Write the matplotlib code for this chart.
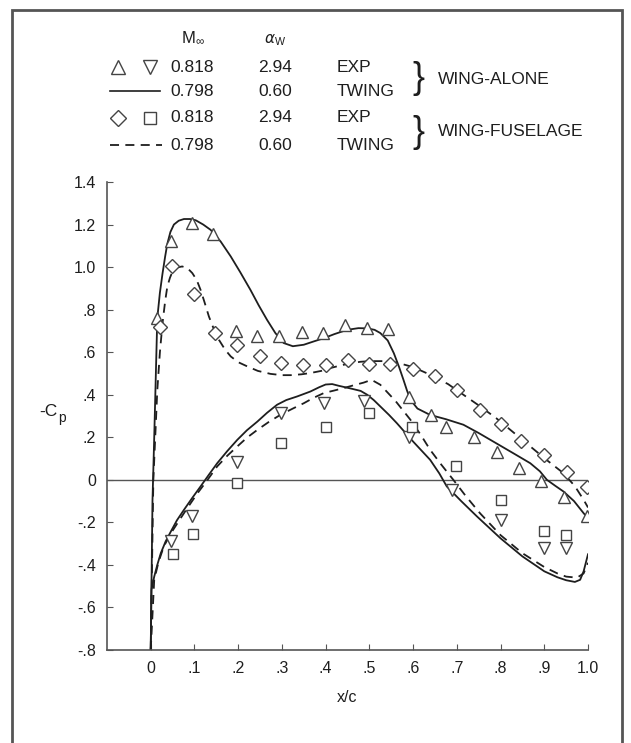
import numpy as np
import matplotlib
matplotlib.use("Agg")
import matplotlib.pyplot as plt
from matplotlib.patches import Rectangle
from matplotlib.lines import Line2D

plt.rcParams["font.family"] = ["Liberation Sans", "DejaVu Sans"]

# wing-alone experiment, upper surface (triangles)
wa_up_x = [0.015, 0.046, 0.095, 0.143, 0.194, 0.244, 0.293, 0.346, 0.394, 0.444, 0.495,
           0.542, 0.59, 0.64, 0.675, 0.74, 0.793, 0.843, 0.892, 0.944, 0.997]
wa_up_y = [0.76, 1.125, 1.207, 1.155, 0.70, 0.674, 0.674, 0.697, 0.69, 0.73, 0.712,
           0.71, 0.39, 0.305, 0.25, 0.20, 0.13, 0.055, -0.005, -0.08, -0.17]
# wing-alone experiment, lower surface (inverted triangles)
wa_lo_x = [0.046, 0.095, 0.198, 0.297, 0.396, 0.487, 0.59, 0.69, 0.80, 0.90, 0.95]
wa_lo_y = [-0.287, -0.17, 0.086, 0.313, 0.363, 0.37, 0.20, -0.047, -0.19, -0.32, -0.32]
# wing-fuselage experiment, upper surface (diamonds)
wf_up_x = [0.021, 0.048, 0.099, 0.148, 0.198, 0.251, 0.298, 0.349, 0.40, 0.451, 0.50,
           0.548, 0.60, 0.65, 0.70, 0.752, 0.80, 0.847, 0.90, 0.951, 0.998]
wf_up_y = [0.72, 1.003, 0.873, 0.69, 0.635, 0.58, 0.548, 0.54, 0.54, 0.564, 0.546,
           0.545, 0.52, 0.49, 0.42, 0.33, 0.263, 0.183, 0.117, 0.036, -0.036]
# wing-fuselage experiment, lower surface (squares)
wf_lo_x = [0.05, 0.097, 0.198, 0.297, 0.40, 0.50, 0.597, 0.699, 0.80, 0.90, 0.95]
wf_lo_y = [-0.348, -0.255, -0.013, 0.175, 0.248, 0.313, 0.25, 0.063, -0.094, -0.24, -0.26]

# TWING wing-alone (solid)
tw_up_x = [0.0, 0.004, 0.008, 0.011, 0.015, 0.021, 0.027, 0.033, 0.038, 0.045, 0.053, 0.064,
           0.076, 0.09, 0.103, 0.12, 0.137, 0.16, 0.183, 0.205, 0.228, 0.247, 0.266, 0.285,
           0.304, 0.325, 0.35, 0.372, 0.396, 0.42, 0.449, 0.475, 0.495, 0.512, 0.525, 0.542,
           0.556, 0.568, 0.578, 0.586, 0.594, 0.61, 0.639, 0.675, 0.715, 0.75, 0.79, 0.83,
           0.868, 0.89, 0.906, 0.925, 0.944, 0.968, 0.99, 1.0]
tw_up_y = [-0.8, -0.1, 0.2, 0.44, 0.76, 0.88, 0.97, 1.05, 1.11, 1.165, 1.20, 1.218,
           1.226, 1.226, 1.22, 1.2, 1.175, 1.12, 1.05, 0.975, 0.893, 0.82, 0.752, 0.69,
           0.643, 0.628, 0.635, 0.65, 0.666, 0.685, 0.705, 0.713, 0.712, 0.705, 0.69, 0.655,
           0.595, 0.53, 0.47, 0.42, 0.376, 0.335, 0.305, 0.285, 0.259, 0.22, 0.172, 0.124,
           0.078, 0.04, 0.0, -0.028, -0.055, -0.1, -0.157, -0.18]
tw_lo_x = [0.0, 0.0015, 0.008, 0.015, 0.023, 0.034, 0.046, 0.06, 0.076, 0.095, 0.114, 0.133,
           0.152, 0.175, 0.198, 0.22, 0.244, 0.266, 0.289, 0.31, 0.335, 0.365, 0.385, 0.40,
           0.415, 0.43, 0.46, 0.48, 0.495, 0.51, 0.525, 0.545, 0.563, 0.6, 0.639, 0.66,
           0.677, 0.71, 0.746, 0.80, 0.85, 0.90, 0.93, 0.95, 0.97, 0.982, 0.99, 1.0]
tw_lo_y = [-0.8, -0.517, -0.455, -0.4, -0.345, -0.29, -0.243, -0.19, -0.141, -0.085, -0.031,
           0.024, 0.078, 0.135, 0.188, 0.233, 0.274, 0.315, 0.353, 0.375, 0.392, 0.415, 0.435,
           0.448, 0.45, 0.442, 0.428, 0.418, 0.40, 0.375, 0.345, 0.305, 0.266, 0.18, 0.094,
           0.03, -0.031, -0.1, -0.172, -0.275, -0.36, -0.43, -0.458, -0.472, -0.48, -0.47,
           -0.43, -0.35]
# TWING wing-fuselage (dashed)
tf_up_x = [0.0, 0.006, 0.015, 0.021, 0.027, 0.033, 0.038, 0.044, 0.05, 0.06, 0.072, 0.084,
           0.095, 0.105, 0.114, 0.123, 0.133, 0.145, 0.156, 0.17, 0.183, 0.2, 0.221, 0.245,
           0.274, 0.3, 0.32, 0.345, 0.365, 0.39, 0.41, 0.435, 0.457, 0.48, 0.502, 0.53, 0.563,
           0.6, 0.639, 0.68, 0.715, 0.75, 0.79, 0.83, 0.868, 0.905, 0.944, 0.97, 0.99, 1.0]
tf_up_y = [-0.8, 0.0, 0.42, 0.6, 0.737, 0.84, 0.909, 0.95, 0.98, 0.998, 1.003, 0.995,
           0.972, 0.94, 0.893, 0.835, 0.768, 0.705, 0.658, 0.612, 0.58, 0.553, 0.533, 0.512,
           0.498, 0.492, 0.492, 0.496, 0.502, 0.512, 0.525, 0.538, 0.548, 0.555, 0.558, 0.558,
           0.551, 0.53, 0.494, 0.45, 0.40, 0.35, 0.29, 0.222, 0.157, 0.094, 0.031, -0.03,
           -0.094, -0.13]
tf_lo_x = [0.0, 0.008, 0.018, 0.03, 0.045, 0.061, 0.083, 0.107, 0.13, 0.152, 0.175, 0.198,
           0.22, 0.244, 0.27, 0.297, 0.325, 0.35, 0.372, 0.396, 0.42, 0.441, 0.465, 0.487,
           0.505, 0.525, 0.56, 0.594, 0.618, 0.639, 0.665, 0.692, 0.72, 0.753, 0.80, 0.85,
           0.90, 0.93, 0.95, 0.975, 0.99, 1.0]
tf_lo_y = [-0.8, -0.47, -0.385, -0.313, -0.255, -0.204, -0.135, -0.063, 0.0, 0.063, 0.113,
           0.157, 0.198, 0.235, 0.272, 0.306, 0.335, 0.36, 0.385, 0.408, 0.42, 0.431, 0.445,
           0.457, 0.47, 0.447, 0.37, 0.282, 0.21, 0.141, 0.07, 0.0, -0.075, -0.157, -0.26,
           -0.345, -0.41, -0.44, -0.455, -0.46, -0.44, -0.39]

x_ticks = [0, 0.1, 0.2, 0.3, 0.4, 0.5, 0.6, 0.7, 0.8, 0.9, 1.0]
x_labels = ["0", ".1", ".2", ".3", ".4", ".5", ".6", ".7", ".8", ".9", "1.0"]
y_ticks = [1.4, 1.2, 1.0, 0.8, 0.6, 0.4, 0.2, 0, -0.2, -0.4, -0.6, -0.8]
y_labels = ["1.4", "1.2", "1.0", ".8", ".6", ".4", ".2", "0", "-.2", "-.4", "-.6", "-.8"]

ink = "#1e1e1e"
W, H = 631, 743
fig = plt.figure(figsize=(W / 100, H / 100), dpi=100)
ax = fig.add_axes([107 / W, 1 - 650 / H, (588 - 107) / W, (650 - 182) / H])

ax.axhline(0, color="#555555", lw=1.0)
ax.plot(tw_up_x, tw_up_y, color=ink, lw=1.3)
ax.plot(tw_lo_x, tw_lo_y, color=ink, lw=1.3)
ax.plot(tf_up_x, tf_up_y, color=ink, lw=1.3, dashes=(5, 3.5))
ax.plot(tf_lo_x, tf_lo_y, color=ink, lw=1.3, dashes=(5, 3.5))

mk = dict(ls="none", mfc="white", mec="#444444", mew=1.0)
ax.plot(wa_up_x, wa_up_y, marker="^", ms=8, **mk)
ax.plot(wa_lo_x, wa_lo_y, marker="v", ms=8, **mk)
ax.plot(wf_up_x, wf_up_y, marker="D", ms=7, **mk)
ax.plot(wf_lo_x, wf_lo_y, marker="s", ms=7, **mk)

ax.set_xlim(-0.1, 1.0)
ax.set_ylim(-0.8, 1.4)
ax.set_xticks(x_ticks)
ax.set_xticklabels(x_labels)
ax.set_yticks(y_ticks)
ax.set_yticklabels(y_labels)
for s in ["top", "right"]:
    ax.spines[s].set_visible(False)
for s in ["left", "bottom"]:
    ax.spines[s].set_color("#555555")
    ax.spines[s].set_linewidth(1.2)
ax.tick_params(direction="in", length=4, color="#555555", labelsize=11.5,
               labelcolor=ink, pad=8)
ax.set_xlabel("x/c", fontsize=11.5, color=ink, labelpad=10)


def fy(py):
    return 1 - py / H


fig.text(57 / W, fy(412), "-C", fontsize=12.5, color=ink, ha="right", va="center")
fig.text(58 / W, fy(418), "p", fontsize=10, color=ink, ha="left", va="center")

# legend block
fs = 12.5
fig.text(193 / W, fy(38), r"$\mathregular{M_\infty}$", fontsize=12, color=ink, ha="center", va="center")
fig.text(275 / W, fy(40), r"$\alpha_\mathregular{W}$", fontsize=11, color=ink, ha="center", va="center")

rows = [67, 91, 118, 145]
mach = ["0.818", "0.798", "0.818", "0.798"]
alpha = ["2.94", "0.60", "2.94", "0.60"]
src = ["EXP", "TWING", "EXP", "TWING"]
for r, m, a, s in zip(rows, mach, alpha, src):
    fig.text(170 / W, fy(r), m, fontsize=fs, color=ink, va="center")
    fig.text(258 / W, fy(r), a, fontsize=fs, color=ink, va="center")
    fig.text(337 / W, fy(r), s, fontsize=fs, color=ink, va="center")

lk = dict(ls="none", mfc="white", mec="#444444", mew=1.0)
fig.add_artist(Line2D([118 / W], [fy(67)], marker="^", ms=10, **lk))
fig.add_artist(Line2D([150 / W], [fy(67)], marker="v", ms=10, **lk))
fig.add_artist(Line2D([118 / W], [fy(118)], marker="D", ms=8.5, **lk))
fig.add_artist(Line2D([150 / W], [fy(118)], marker="s", ms=9, **lk))
fig.add_artist(Line2D([110 / W, 160 / W], [fy(91), fy(91)], color=ink, lw=1.2))
fig.add_artist(Line2D([110 / W, 162 / W], [fy(145), fy(145)], color=ink, lw=1.3, dashes=(5, 3.5)))

fig.text(418 / W, fy(79), "}", fontsize=26, color=ink, ha="center", va="center", fontweight="light")
fig.text(418 / W, fy(132), "}", fontsize=26, color=ink, ha="center", va="center", fontweight="light")
fig.text(438 / W, fy(79), "WING-ALONE", fontsize=fs, color=ink, va="center")
fig.text(438 / W, fy(132), "WING-FUSELAGE", fontsize=fs, color=ink, va="center")

# page frame
fig.add_artist(Rectangle((12 / W, -0.05), (622 - 12) / W, fy(10) + 0.05, transform=fig.transFigure,
                         fill=False, ec="#555555", lw=2))

fig.savefig("out.png", dpi=100)
